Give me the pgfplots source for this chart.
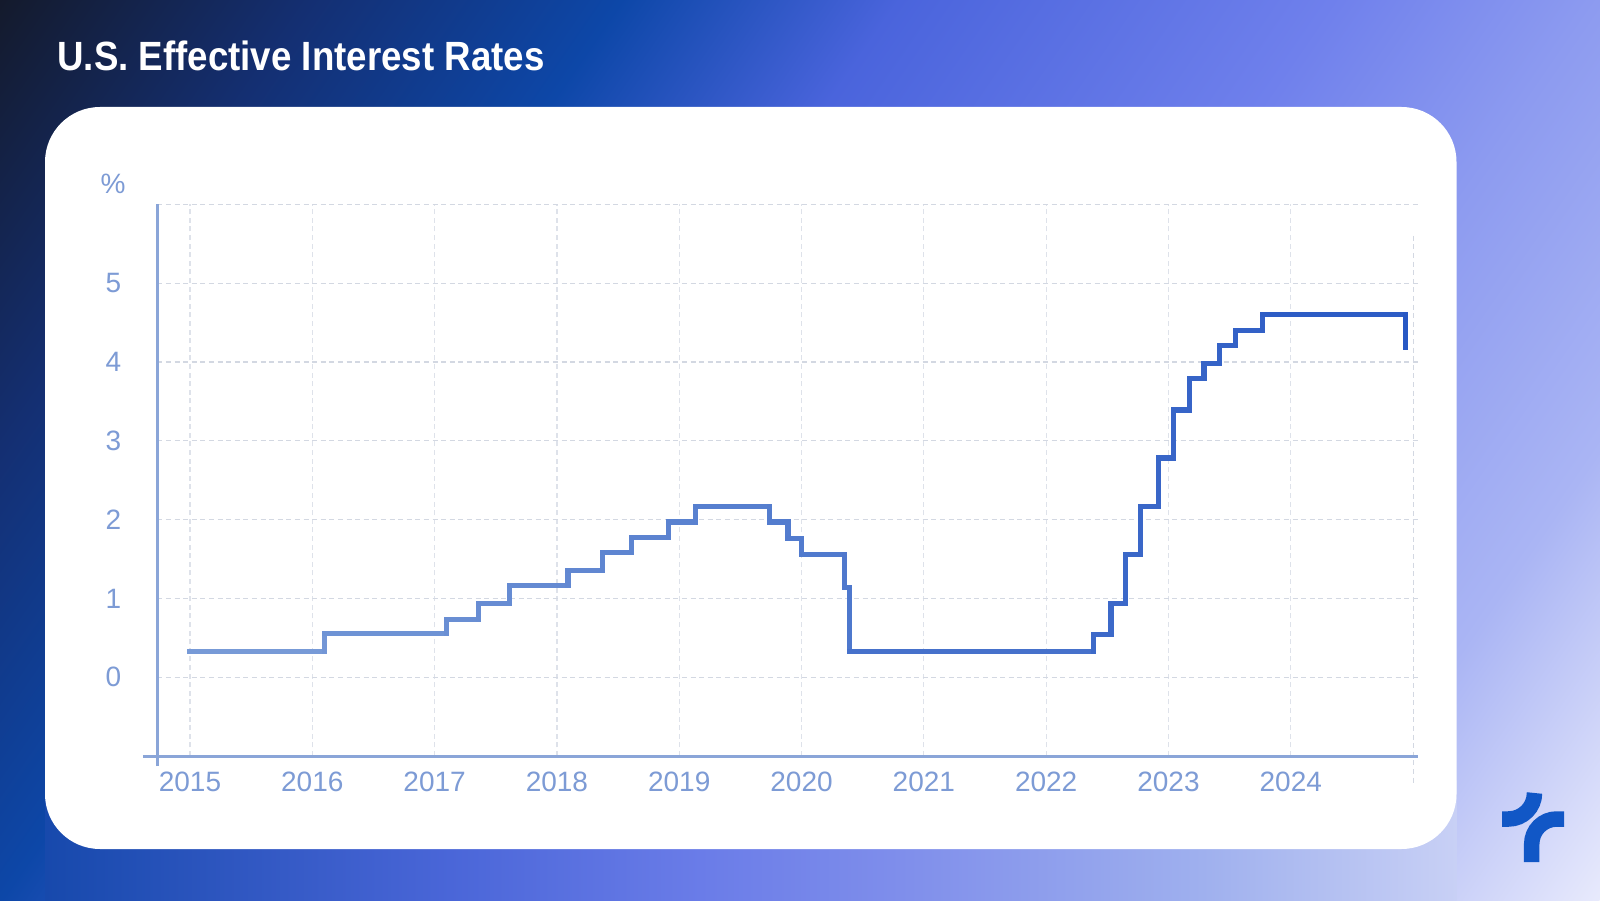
\documentclass[border=0pt]{standalone}
\usepackage{pgfplots}
\pgfplotsset{compat=1.18}
\usepackage{fontspec}
\setmainfont{Liberation Sans}
\definecolor{bgA}{HTML}{141A2C}
\definecolor{bgB}{HTML}{142F72}
\definecolor{bgC}{HTML}{0D47A8}
\definecolor{bgD}{HTML}{4A64DC}
\definecolor{bgE}{HTML}{6F80EC}
\definecolor{bgF}{HTML}{8D9BF0}
\definecolor{bgG}{HTML}{AAB5F4}
\definecolor{bgH}{HTML}{E8EAFC}
\definecolor{pnA}{HTML}{1749AC}
\definecolor{pnB}{HTML}{4A66D8}
\definecolor{pnC}{HTML}{6A7CE8}
\definecolor{pnD}{HTML}{7F8EEB}
\definecolor{pnE}{HTML}{9FB0EE}
\definecolor{pnF}{HTML}{C8D0F5}
\definecolor{axiscol}{HTML}{8AA5D8}
\definecolor{labcol}{HTML}{7D9BD5}
\definecolor{gridcol}{HTML}{D3D8E2}
\definecolor{vgridcol}{HTML}{DEE2EA}
\definecolor{logocol}{HTML}{1157C6}
\pgfdeclarehorizontalshading{bgshade}{100bp}{color(0bp)=(bgA); color(25bp)=(bgA); color(32bp)=(bgB); color(39bp)=(bgC); color(45.25bp)=(bgD); color(55bp)=(bgE); color(61bp)=(bgF); color(68bp)=(bgG); color(75bp)=(bgH); color(100bp)=(bgH)}
\pgfdeclarehorizontalshading{panelshade}{100bp}{color(0bp)=(pnA); color(25bp)=(pnA); color(39.35bp)=(pnB); color(48.2bp)=(pnC); color(55.3bp)=(pnD); color(66bp)=(pnE); color(75bp)=(pnF); color(100bp)=(pnF)}
\begin{document}
\begin{tikzpicture}[x=1pt,y=1pt]
\useasboundingbox (0,0) rectangle (800,450);
\begin{scope}
\clip (0,0) rectangle (800,450);
\shade[shading=bgshade, transform canvas={shift={(0,450)}, rotate=-34.6}] (0,-500) rectangle (914,500);
\end{scope}
% panel behind card
\shade[shading=panelshade] (22.5,0) rectangle (728.25,60);
% card
\fill[white, rounded corners=27.5pt] (22.5,25.5) rectangle (728.25,396.5);
% title
\node[anchor=base west, inner sep=0pt, text=white] at (28.5,414.5) {\resizebox{243.5pt}{14.8pt}{\bfseries U.S. Effective Interest Rates}};
% percent label
\node[text=labcol, font=\fontsize{14}{16}\selectfont, inner sep=0pt] at (56.5,358.25) {\%};
% logo
\draw[logocol, line width=7.75pt] (751,40.5) -- (754.25,40.5) arc[start angle=-90, end angle=0, radius=13] -- (767.25,53.5);
\draw[logocol, line width=7.75pt] (765.85,19) -- (765.85,28) arc[start angle=180, end angle=90, radius=12.5] -- (782,40.5);
\begin{axis}[
  at={(78.65pt,72pt)}, anchor=south west,
  width=630.35pt, height=275.85pt, scale only axis,
  xmin=2014.733, xmax=2025.04, ymin=-1, ymax=6,
  xtick={2015,2016,2017,2018,2019,2020,2021,2022,2023,2024},
  xticklabels={2015,2016,2017,2018,2019,2020,2021,2022,2023,2024},
  ytick={0,1,2,3,4,5,6},
  yticklabels={0,1,2,3,4,5,{}},
  grid=major,
  major grid style={gridcol, line width=0.6pt, dash pattern=on 2.5pt off 1.8pt},
  x grid style={vgridcol},
  axis line style={draw=none},
  major tick length=0pt,
  tick label style={font=\fontsize{14}{16}\selectfont, text=labcol},
  /pgf/number format/assume math mode=true,
  yticklabel style={anchor=center, xshift=-22pt},
  xticklabel style={anchor=center, yshift=-13pt},
  clip=false,
  colormap={linegrad}{rgb255=(124,158,216) rgb255=(40,88,196)},
  point meta min=2015, point meta max=2025,
]
\draw[gridcol, line width=0.6pt, dash pattern=on 2.5pt off 1.8pt] (axis cs:2025,5.6) -- (axis cs:2025,-1.36);
\draw[axiscol, line width=1.5pt] (axis cs:2014.733,-1.13) -- (axis cs:2014.733,6);
\draw[axiscol, line width=1.5pt] (axis cs:2014.616,-1) -- (axis cs:2025.04,-1);
\addplot[mesh, point meta=x, line width=2.6pt, line cap=rect, shader=flat] coordinates {
(2015,0.33) (2016.1,0.33) (2016.1,0.55) (2017.1,0.55) (2017.1,0.73) (2017.36,0.73) (2017.36,0.94) (2017.61,0.94) (2017.61,1.16) (2018.09,1.16) (2018.09,1.35) (2018.37,1.35) (2018.37,1.58) (2018.61,1.58) (2018.61,1.77) (2018.91,1.77) (2018.91,1.97) (2019.135,1.97) (2019.135,2.17) (2019.74,2.17) (2019.74,1.97) (2019.89,1.97) (2019.89,1.76) (2020.0,1.76) (2020.0,1.56) (2020.35,1.56) (2020.35,1.14) (2020.39,1.14) (2020.39,0.33) (2022.39,0.33) (2022.39,0.54) (2022.53,0.54) (2022.53,0.94) (2022.65,0.94) (2022.65,1.56) (2022.77,1.56) (2022.77,2.17) (2022.92,2.17) (2022.92,2.78) (2023.04,2.78) (2023.04,3.39) (2023.17,3.39) (2023.17,3.79) (2023.29,3.79) (2023.29,3.98) (2023.42,3.98) (2023.42,4.21) (2023.55,4.21) (2023.55,4.40) (2023.77,4.40) (2023.77,4.60) (2024.94,4.60) (2024.94,4.18)
};
\end{axis}
\end{tikzpicture}
\end{document}
